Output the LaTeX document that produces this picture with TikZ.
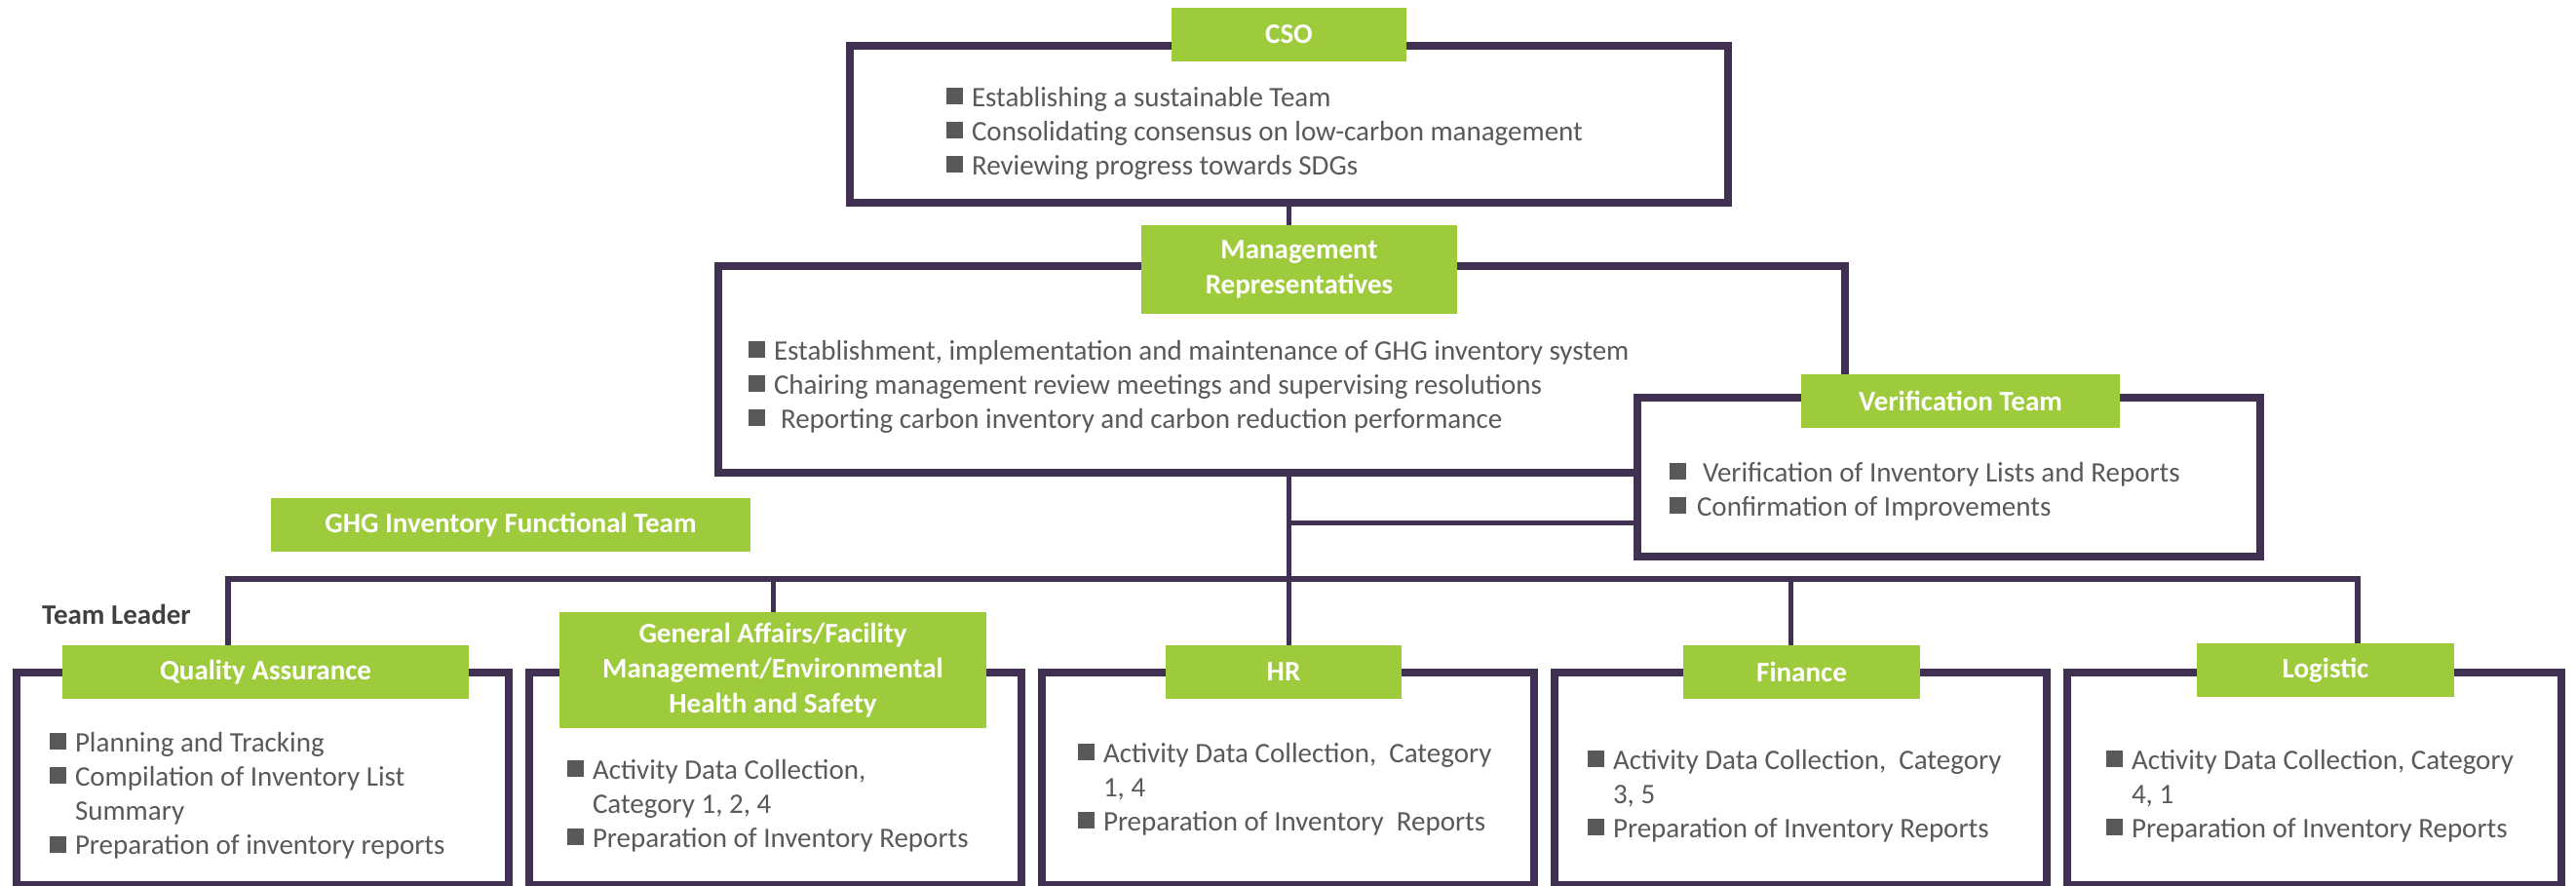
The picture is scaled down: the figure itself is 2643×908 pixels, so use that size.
\documentclass[tikz,border=0pt]{standalone}
\usepackage{fontspec}
\setmainfont{Carlito}
\usetikzlibrary{backgrounds}

\definecolor{framepurple}{RGB}{64,49,82}
\definecolor{labgreen}{RGB}{158,203,59}
\definecolor{txtgray}{RGB}{89,89,89}
\definecolor{leadgray}{RGB}{64,64,64}

% square bullet and continuation indent
\newcommand\sqb{\textcolor{txtgray}{\rule[2pt]{17pt}{17pt}}\hspace{9pt}}
\newcommand\cont{\hspace{26pt}}
% list of text lines: name, x, first baseline, line pitch, lines
\newcommand\itemlist[5]{%
  \foreach \t [count=\i from 0] in {#5}
    \node[item] (#1\i) at (#2, #3+#4*\i) {\t};}

\begin{document}
\begin{tikzpicture}[x=1pt,y=-1pt,
  frame/.style={rectangle, draw=framepurple, line width=8pt, fill=white,
    inner sep=0pt, outer sep=0pt},
  lab/.style={rectangle, fill=labgreen, text=white, inner sep=0pt, outer sep=0pt,
    font=\bfseries\fontsize{29}{36}\selectfont, align=center},
  link/.style={draw=framepurple, line width=5pt},
  busline/.style={draw=framepurple, line width=6pt, line join=miter},
  item/.style={anchor=base west, inner sep=0pt, outer sep=0pt, text=txtgray,
    font=\fontsize{29}{35}\selectfont}
]
\useasboundingbox (0,0) rectangle (2643,908);

% ---- framed boxes
\node[frame, minimum width=901pt,  minimum height=161pt]   (cso)   at (1322.5,127.5) {};
\node[frame, minimum width=1156pt, minimum height=211.5pt] (mgmt)  at (1315,378.75) {};
\node[frame, minimum width=639pt,  minimum height=163pt]   (verif) at (1999.5,489.5) {};
\node[frame, minimum width=505pt, minimum height=218pt] (qa)  at (269.5,799)  {};
\node[frame, minimum width=505pt, minimum height=218pt] (ga)  at (795.5,799)  {};
\node[frame, minimum width=505pt, minimum height=218pt] (hr)  at (1321.5,799) {};
\node[frame, minimum width=505pt, minimum height=218pt] (fin) at (1847.5,799) {};
\node[frame, minimum width=507pt, minimum height=218pt] (log) at (2374,799)   {};

% ---- green labels
\node[lab, minimum width=241pt, minimum height=55pt]  (csolab)   at (1322.5,35.5) {CSO};
\node[lab, minimum width=324pt, minimum height=91pt]  (mgmtlab)  at (1333,276.5)  {Management\\Representatives};
\node[lab, minimum width=327pt, minimum height=55pt]  (veriflab) at (2011.5,411.5) {Verification Team};
\node[lab, minimum width=492pt, minimum height=55pt]  (ghglab)   at (524,538.5)   {GHG Inventory Functional Team};
\node[lab, minimum width=417pt, minimum height=55pt]  (qalab)    at (272.5,689.5) {Quality Assurance};
\node[lab, minimum width=438pt, minimum height=119pt] (galab)    at (793,687.5)   {General Affairs/Facility\\Management/Environmental\\Health and Safety};
\node[lab, minimum width=242pt, minimum height=55pt]  (hrlab)    at (1317,689.5)  {HR};
\node[lab, minimum width=243pt, minimum height=55pt]  (finlab)   at (1848.5,689.5) {Finance};
\node[lab, minimum width=264pt, minimum height=55pt]  (loglab)   at (2386,687.5)  {Logistic};

% ---- connectors, kept behind boxes and labels
\coordinate (busL)    at (234,594);
\coordinate (busR)    at (2419,594);
\coordinate (gadrop)  at (793,594);
\coordinate (findrop) at (1837,594);
\coordinate (vjoin)   at (1323,536.5);

\begin{scope}[on background layer]
  \draw[link] (cso.south) -- (cso.south |- mgmtlab.north);
  \draw[link] (mgmt.south -| cso.south) -- (hrlab.north -| cso.south);
  \draw[link] (vjoin) -- (vjoin -| verif.west);
  \draw[busline] (busL |- qalab.north) -- (busL) -- (busR) -- (busR |- loglab.north);
  \draw[link] (gadrop) -- (gadrop |- galab.north);
  \draw[link] (findrop) -- (findrop |- finlab.north);
\end{scope}

% ---- side caption
\node[anchor=west, inner sep=0pt, text=leadgray, font=\bfseries\fontsize{29}{35}\selectfont]
  (leader) at (43,630) {Team Leader};

% ---- box contents
\itemlist{csot}{971}{109}{35}{{\sqb Establishing a sustainable Team},
  {\sqb Consolidating consensus on low-carbon management},
  {\sqb Reviewing progress towards SDGs}}
\itemlist{mgmtt}{768}{369}{35}{{\sqb Establishment, implementation and maintenance of GHG inventory system},
  {\sqb Chairing management review meetings and supervising resolutions},
  {\sqb\hspace{7pt}Reporting carbon inventory and carbon reduction performance}}
\itemlist{verift}{1713}{494}{35}{{\sqb\hspace{8pt}Verification of Inventory Lists and Reports},
  {\sqb\hspace{2pt}Confirmation of Improvements}}
\itemlist{qat}{51}{771}{35.3}{{\sqb Planning and Tracking},
  {\sqb Compilation of Inventory List},
  {\cont Summary},
  {\sqb Preparation of inventory reports}}
\itemlist{gat}{582}{799}{35}{{\sqb Activity Data Collection,},
  {\cont Category 1, 2, 4},
  {\sqb Preparation of Inventory Reports}}
\itemlist{hrt}{1106}{782}{35}{{\sqb Activity Data Collection,\ \ Category},
  {\cont 1, 4},
  {\sqb Preparation of Inventory\ \ Reports}}
\itemlist{fint}{1629}{789}{35}{{\sqb Activity Data Collection,\ \ Category},
  {\cont 3, 5},
  {\sqb Preparation of Inventory Reports}}
\itemlist{logt}{2161}{789}{35}{{\sqb Activity Data Collection, Category},
  {\cont 4, 1},
  {\sqb Preparation of Inventory Reports}}
\end{tikzpicture}
\end{document}
